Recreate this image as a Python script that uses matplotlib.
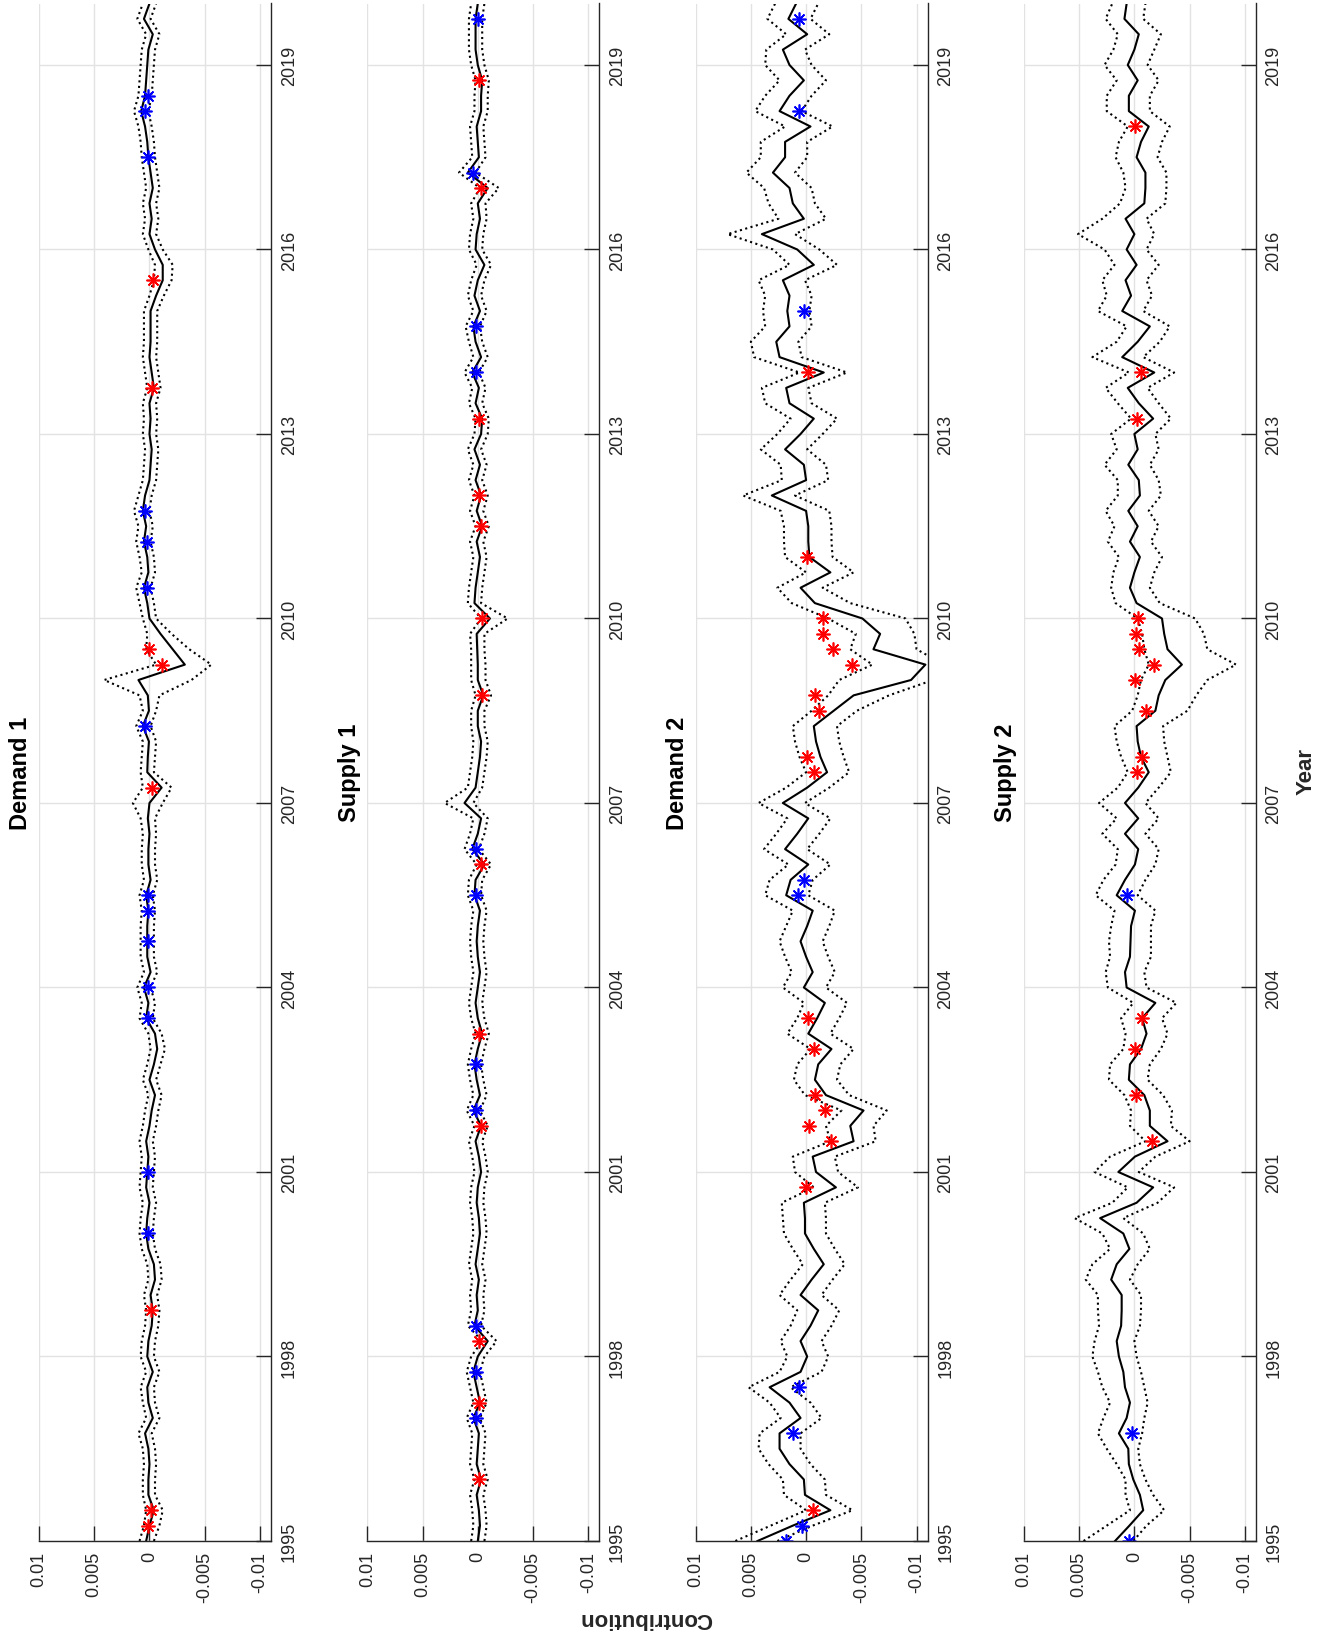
import numpy as np
import matplotlib
matplotlib.use("Agg")
from matplotlib import pyplot as plt

plt.rcParams['font.family'] = ['Liberation Sans', 'DejaVu Sans']

# quarterly dates 1995Q1 .. 2020Q1
years = np.arange(101) / 4 + 1995

# historical decomposition, all values in 1e-3 units
d1_mid = [0.3, 0.0, -0.4, 0.1, 0.1, 0.0, 0.1, 0.4, -0.3, 0.1,
          0.2, -0.3, 0.2, 0.1, -0.2, -0.3, -0.1, -0.5, -0.4, 0.1,
          0.3, 0.2, 0.0, 0.3, 0.2, 0.1, 0.3, 0.0, -0.2, -0.5,
          0.0, -0.4, -0.7, -0.5, 0.3, 0.1, 0.5, -0.1, 0.2, 0.2,
          0.2, 0.1, 0.3, -0.1, 0.1, 0.1, 0.0, 0.15, 0.0, -1.1,
          0.2, 0.15, 0.05, 0.6, 0.05, 0.15, 1.0, -3.2, -2.1, -1.0,
          0.0, 0.2, 0.5, 0.1, 0.2, 0.5, 0.3, 0.6, 0.4, 0.0,
          -0.1, -0.2, 0.0, -0.1, 0.0, -0.4, -0.2, 0.0, -0.1, -0.1,
          -0.1, -0.6, -1.2, -1.2, -0.5, 0.0, -0.2, 0.0, -0.3, -0.1,
          0.1, 0.2, 0.4, 0.75, 0.4, 0.3, 0.2, 0.1, -0.3, 0.5, 0.0]
d1_hi = [0.9, 0.5, 0.3, 0.6, 0.6, 0.5, 0.6, 1.0, 0.3, 0.6,
         0.8, 0.3, 0.8, 0.7, 0.4, 0.3, 0.5, 0.1, 0.2, 0.7,
         0.9, 0.8, 0.6, 0.9, 0.8, 0.7, 0.9, 0.6, 0.4, 0.1,
         0.6, 0.2, -0.1, 0.1, 0.9, 0.7, 1.1, 0.5, 0.8, 0.8,
         0.8, 0.7, 0.9, 0.5, 0.7, 0.7, 0.6, 0.8, 1.5, 0.6,
         0.8, 0.7, 0.6, 1.2, 0.6, 0.9, 4.1, -0.6, 0.3, 0.2,
         0.6, 0.9, 1.2, 0.7, 0.9, 1.2, 1.0, 1.4, 1.0, 0.6,
         0.5, 0.4, 0.6, 0.5, 0.6, 0.2, 0.4, 0.6, 0.5, 0.5,
         0.5, 0.0, -0.4, -0.5, 0.1, 0.6, 0.4, 0.6, 0.3, 0.5,
         0.7, 0.8, 1.0, 1.4, 1.0, 0.9, 0.8, 0.7, 0.3, 1.1, 0.6]
d1_lo = [-0.4, -0.9, -1.2, -0.5, -0.5, -0.6, -0.5, -0.2, -0.9, -0.5,
         -0.4, -0.9, -0.4, -0.5, -0.8, -0.9, -0.7, -1.1, -1.0, -0.5,
         -0.3, -0.4, -0.6, -0.3, -0.4, -0.5, -0.3, -0.6, -0.8, -1.1,
         -0.6, -1.0, -1.4, -1.1, -0.3, -0.5, -0.1, -0.7, -0.4, -0.4,
         -0.4, -0.5, -0.3, -0.7, -0.5, -0.5, -0.6, -0.5, -1.2, -2.0,
         -0.4, -0.5, -0.6, -0.1, -0.6, -0.9, -3.8, -5.6, -3.6, -2.0,
         -0.6, -0.4, -0.1, -0.5, -0.4, -0.1, -0.3, 0.0, -0.2, -0.6,
         -0.7, -0.8, -0.6, -0.7, -0.6, -1.0, -0.8, -0.6, -0.7, -0.7,
         -0.7, -1.3, -2.0, -2.1, -1.2, -0.6, -0.8, -0.6, -0.9, -0.7,
         -0.5, -0.4, -0.2, 0.1, -0.2, -0.3, -0.4, -0.5, -0.9, -0.1, -0.6]
d1_red_t = [1995.25, 1995.5, 1998.75, 2007.25, 2009.25, 2009.5, 2013.75, 2015.5]
d1_red_v = [0.1, -0.1, -0.1, -0.25, -1.1, 0.0, -0.25, -0.3]
d1_blue_t = [2000.0, 2001.0, 2003.5, 2004.0, 2004.75, 2005.25, 2005.5, 2008.25,
             2010.5, 2011.25, 2011.75, 2017.5, 2018.25, 2018.5]
d1_blue_v = [0.15, 0.15, 0.15, 0.15, 0.15, 0.15, 0.15, 0.45, 0.25, 0.2, 0.4, 0.15, 0.4, 0.1]

s1_mid = [0.0, -0.2, -0.1, 0.1, -0.3, 0.1, 0.0, -0.1, 0.4, -0.2,
          0.1, 0.4, 0.0, -0.9, 0.3, 0.0, 0.1, -0.1, 0.2, 0.0,
          -0.2, -0.1, 0.1, 0.0, -0.3, -0.1, 0.2, -0.3, 0.4, -0.2,
          0.1, 0.3, 0.0, -0.4, 0.0, 0.2, 0.0, -0.2, 0.0, 0.1,
          0.0, -0.2, 0.3, 0.2, -0.6, 0.5, 0.0, -0.3, 1.2, 0.2,
          0.0, -0.2, -0.3, 0.0, 0.0, -0.5, 0.0, 0.0, 0.05, 0.1,
          -1.1, 0.3, 0.2, 0.0, -0.2, 0.1, -0.4, 0.1, -0.3, 0.2,
          -0.2, 0.3, -0.3, -0.4, 0.2, -0.1, 0.5, -0.3, 0.2, 0.4,
          -0.2, 0.3, 0.0, -0.6, 0.2, 0.1, -0.2, 0.0, -0.9, 0.9,
          -0.1, 0.0, 0.1, -0.3, -0.3, -0.4, 0.0, 0.2, 0.2, 0.2, 0.0]
s1_hi = [0.6, 0.4, 0.5, 0.7, 0.3, 0.7, 0.6, 0.5, 1.0, 0.4,
         0.7, 1.0, 0.6, -0.4, 0.9, 0.6, 0.7, 0.5, 0.8, 0.6,
         0.4, 0.5, 0.7, 0.6, 0.3, 0.5, 0.8, 0.3, 1.0, 0.4,
         0.7, 0.9, 0.6, 0.2, 0.6, 0.8, 0.6, 0.4, 0.6, 0.7,
         0.6, 0.4, 0.9, 0.8, 0.1, 1.2, 0.7, 0.4, 3.0, 0.9,
         0.7, 0.5, 0.4, 0.6, 0.6, 0.2, 0.6, 0.6, 0.6, 0.7,
         -0.3, 0.9, 0.8, 0.6, 0.4, 0.7, 0.2, 0.7, 0.3, 0.8,
         0.4, 0.9, 0.3, 0.2, 0.8, 0.5, 1.2, 0.4, 0.8, 1.1,
         0.4, 0.9, 0.6, 0.1, 0.8, 0.7, 0.4, 0.6, -0.2, 1.7,
         0.5, 0.6, 0.7, 0.3, 0.3, 0.2, 0.6, 0.8, 0.8, 0.8, 0.6]
s1_lo = [-0.6, -0.8, -0.7, -0.5, -0.9, -0.5, -0.6, -0.7, -0.2, -0.8,
         -0.5, -0.2, -0.6, -1.7, -0.3, -0.6, -0.5, -0.7, -0.4, -0.6,
         -0.8, -0.7, -0.5, -0.6, -0.9, -0.7, -0.4, -0.9, -0.2, -0.8,
         -0.5, -0.3, -0.6, -1.0, -0.6, -0.4, -0.6, -0.8, -0.6, -0.5,
         -0.6, -0.8, -0.3, -0.4, -1.2, -0.1, -0.6, -0.9, 0.4, -0.4,
         -0.6, -0.8, -0.9, -0.6, -0.6, -1.2, -0.7, -0.7, -0.6, -0.6,
         -2.7, -0.3, -0.4, -0.6, -0.8, -0.5, -1.0, -0.5, -0.9, -0.4,
         -0.8, -0.3, -0.9, -1.0, -0.4, -0.7, -0.1, -0.9, -0.4, -0.2,
         -0.8, -0.3, -0.6, -1.2, -0.4, -0.5, -0.8, -0.7, -1.9, 0.2,
         -0.7, -0.6, -0.5, -0.9, -0.9, -1.0, -0.6, -0.4, -0.4, -0.4, -0.6]
s1_red_t = [1996.0, 1997.25, 1998.25, 2001.75, 2003.25, 2006.0, 2008.75, 2010.0,
            2011.5, 2012.0, 2013.25, 2017.0, 2018.75]
s1_red_v = [-0.1, -0.1, -0.1, -0.3, -0.1, -0.3, -0.4, -0.4, -0.3, -0.1, -0.1, -0.3, -0.1]
s1_blue_t = [1997.0, 1997.75, 1998.5, 2002.0, 2002.75, 2005.5, 2006.25, 2014.0,
             2014.75, 2017.25, 2019.75]
s1_blue_v = [0.2, 0.2, 0.2, 0.2, 0.2, 0.2, 0.2, 0.2, 0.2, 0.4, 0.0]

d2_mid = [4.4, 1.2, -2.2, 0.1, 0.2, 1.5, 2.4, 2.4, 0.5, 1.5,
          3.3, 0.5, -0.1, 0.5, -0.4, -1.1, 0.5, -0.5, -1.6, -0.7,
          0.1, 0.1, 0.2, -2.7, -0.9, -0.6, -4.3, -4.0, -5.2, -1.8,
          -0.8, -1.1, -2.3, -0.2, -1.0, -1.7, 0.2, -0.6, 0.0, 0.5,
          -0.1, -0.6, 1.8, 1.4, -0.2, 1.9, 0.8, -0.2, 2.1, -0.1,
          -1.9, -1.3, -0.9, -0.7, -2.5, -4.3, -9.5, -10.8, -6.1, -6.7,
          -5.1, -0.8, 0.5, -2.2, -0.3, -0.2, -0.2, 0.0, 3.1, 0.0,
          0.2, 1.9, 0.5, -0.7, 1.5, 1.8, -1.6, 2.4, 2.7, 1.5,
          1.7, 1.5, 2.1, -0.7, 0.8, 4.0, 0.2, 1.2, 1.5, 3.0,
          1.9, 1.9, -0.4, 2.4, 1.5, 0.2, 1.5, 2.1, -0.1, 1.6, 0.9]
d2_hi = [6.4, 3.2, 0.0, 2.0, 2.1, 3.4, 4.3, 4.2, 2.3, 3.3,
         5.2, 2.4, 1.7, 2.3, 1.4, 0.8, 2.4, 1.4, 0.3, 1.2,
         2.0, 2.1, 2.2, -0.7, 1.0, 1.2, -2.2, -1.8, -3.2, 0.1,
         1.1, 0.8, -0.4, 1.7, 0.8, 0.2, 2.1, 1.3, 1.9, 2.4,
         1.8, 1.2, 3.7, 3.3, 1.6, 3.8, 2.7, 1.7, 4.3, 1.8,
         0.0, 0.6, 1.0, 1.2, -0.5, -2.0, -3.0, -6.0, -4.0, -4.5,
         -2.0, 1.3, 2.6, 0.0, 1.9, 2.0, 2.0, 2.3, 5.7, 2.2,
         2.3, 4.1, 2.6, 1.4, 3.7, 4.0, 0.6, 4.7, 5.0, 3.7,
         3.9, 3.7, 4.3, 1.5, 3.0, 7.1, 2.5, 3.4, 3.8, 5.4,
         4.1, 4.1, 1.9, 4.6, 3.7, 2.4, 3.7, 3.6, 1.8, 3.5, 2.8]
d2_lo = [2.6, -0.6, -4.2, -1.8, -1.7, -0.4, 0.5, 0.5, -1.4, -0.4,
         1.4, -1.4, -2.0, -1.4, -2.3, -3.0, -1.4, -2.4, -3.5, -2.6,
         -1.8, -1.8, -1.7, -4.7, -2.9, -2.6, -6.3, -6.1, -7.3, -3.9,
         -2.8, -3.1, -4.3, -2.2, -3.0, -3.7, -1.8, -2.6, -2.0, -1.5,
         -2.1, -2.6, -0.2, -0.6, -2.2, -0.1, -1.2, -2.2, 0.1, -2.1,
         -3.9, -3.4, -3.0, -2.8, -4.6, -7.5, -11.5, -12.5, -10.0, -9.8,
         -9.0, -4.0, -1.5, -4.3, -2.4, -2.3, -2.3, -2.1, 1.0, -2.0,
         -1.8, -0.1, -1.5, -2.8, -0.5, -0.2, -3.7, 0.4, 0.7, -0.5,
         -0.3, -0.5, 0.1, -2.8, -1.2, 1.0, -1.8, -0.8, -0.5, 1.0,
         -0.1, -0.1, -2.4, 0.4, -0.5, -1.8, -0.5, 0.1, -2.1, -0.4, -1.1]
d2_red_t = [1995.5, 2000.75, 2001.5, 2001.75, 2002.0, 2002.25, 2003.0, 2003.5,
            2007.5, 2007.75, 2008.5, 2008.75, 2009.25, 2009.5, 2009.75, 2010.0,
            2011.0, 2014.0]
d2_red_v = [-0.6, 0.0, -2.3, -0.3, -1.7, -0.8, -0.7, -0.2,
            -0.7, -0.06, -1.2, -0.8, -4.2, -2.4, -1.5, -1.5, -0.06, -0.2]
d2_blue_t = [1995.0, 1995.25, 1996.75, 1997.5, 2005.5, 2005.75, 2015.0, 2018.25, 2019.75]
d2_blue_v = [1.8, 0.4, 1.2, 0.6, 0.7, 0.2, 0.2, 0.6, 0.6]

s2_mid = [1.75, 0.45, -0.8, -0.5, 0.1, 0.5, 0.55, 1.4, 0.7, 0.4,
          0.85, 1.0, 1.4, 1.6, 1.2, 1.15, 1.15, 2.1, 1.6, 0.45,
          1.0, 3.1, -0.2, -1.7, 1.45, -0.05, -3.0, -1.4, -1.4, -0.9,
          0.5, 0.4, -0.6, -1.1, -0.7, -1.9, 0.7, 0.85, 0.4, 0.35,
          0.3, -0.05, 1.6, 0.85, -0.05, -0.35, 0.85, -0.35, 0.85, -0.35,
          -1.3, -0.6, -0.3, -0.2, -1.9, -2.2, -2.8, -4.3, -3.0, -2.7,
          -2.5, -0.2, 0.4, 0.0, -0.5, 0.4, -0.3, 0.55, -0.5, -0.4,
          0.55, -0.3, 0.0, -1.7, -0.4, 0.6, -1.8, 1.1, -0.3, -1.4,
          1.1, 0.3, 0.8, -0.2, 0.7, 0.0, 0.8, -0.9, -1.0, -1.0,
          -0.2, -0.6, -1.3, 0.5, 0.5, -0.3, 0.6, 0.0, -0.4, 0.9, 0.7]
s2_hi = [4.6, 2.5, 0.4, 0.8, 0.8, 1.6, 2.5, 3.3, 2.8, 2.2,
         2.9, 3.3, 3.8, 3.6, 3.2, 3.3, 3.3, 4.4, 3.8, 2.2,
         2.9, 5.4, 2.0, 0.6, 3.6, 2.2, -1.0, 0.4, 0.3, 0.9,
         2.3, 2.2, 1.0, 0.8, 1.2, 0.1, 2.4, 2.6, 2.2, 2.3,
         2.1, 1.8, 3.5, 2.8, 1.7, 1.5, 2.9, 1.6, 3.2, 1.5,
         0.6, 1.2, 1.6, 1.8, 0.2, -0.3, -0.6, -1.3, -0.9, -0.7,
         -0.3, 1.7, 2.1, 1.9, 1.4, 2.4, 1.8, 2.6, 1.5, 1.5,
         2.7, 1.6, 2.1, 0.3, 1.5, 2.6, 0.5, 3.8, 1.6, 0.7,
         3.3, 2.5, 2.9, 1.8, 2.7, 5.1, 2.9, 1.3, 0.8, 1.0,
         1.7, 1.4, 0.6, 2.5, 2.5, 1.6, 2.7, 1.9, 1.5, 2.6, 2.0]
s2_lo = [0.1, -1.1, -2.7, -1.7, -1.0, -0.5, -0.35, -0.7, -0.9, -1.2,
         -0.9, -0.6, -0.2, 0.0, -0.5, -0.6, -0.6, 0.4, -0.3, -1.4,
         -0.8, 1.0, -2.1, -3.6, -0.4, -1.9, -5.0, -3.3, -3.4, -2.6,
         -1.2, -1.4, -2.4, -3.0, -2.5, -3.8, -1.1, -0.9, -1.5, -1.5,
         -1.5, -1.9, -0.3, -1.0, -1.9, -2.2, -1.0, -2.2, -1.0, -2.2,
         -3.3, -3.0, -2.7, -2.6, -4.8, -5.6, -6.6, -9.2, -6.6, -6.3,
         -5.5, -2.3, -1.4, -1.8, -2.5, -1.5, -2.2, -1.3, -2.4, -2.2,
         -1.4, -2.2, -1.9, -3.3, -2.2, -1.2, -3.6, -0.8, -2.3, -3.2,
         -0.8, -1.6, -1.1, -2.2, -1.1, -1.8, -1.1, -2.8, -2.9, -2.9,
         -2.1, -2.5, -3.2, -1.4, -1.4, -2.2, -1.2, -1.8, -2.4, -0.8, -1.0]
s2_red_t = [2001.5, 2002.25, 2003.0, 2003.5, 2007.5, 2007.75, 2008.5, 2009.0,
            2009.25, 2009.5, 2009.75, 2010.0, 2013.25, 2014.0, 2018.0]
s2_red_v = [-1.6, -0.15, -0.06, -0.7, -0.2, -0.7, -1.05, -0.06,
            -1.8, -0.45, -0.15, -0.3, -0.2, -0.6, -0.06]
s2_blue_t = [1995.0, 1996.75, 2005.5]
s2_blue_v = [0.5, 0.25, 0.7]

titles = ['Demand 1', 'Supply 1', 'Demand 2', 'Supply 2']
panels = [
    (d1_mid, d1_hi, d1_lo, d1_red_t, d1_red_v, d1_blue_t, d1_blue_v),
    (s1_mid, s1_hi, s1_lo, s1_red_t, s1_red_v, s1_blue_t, s1_blue_v),
    (d2_mid, d2_hi, d2_lo, d2_red_t, d2_red_v, d2_blue_t, d2_blue_v),
    (s2_mid, s2_hi, s2_lo, s2_red_t, s2_red_v, s2_blue_t, s2_blue_v),
]

W, H = 1321, 1640
fig = plt.figure(figsize=(W / 100, H / 100), dpi=100)

ax_col = '#262626'
star = (8, 2, 0)

for i, (mid, hi, lo, rt, rv, bt, bv) in enumerate(panels):
    x0 = 39 + 328.3 * i
    ax = fig.add_axes([x0 / W, (H - 1542) / H, 232 / W, 1537.5 / H])

    ax.plot(np.array(hi) * 1e-3, years, color='k', ls=':', lw=1.5)
    ax.plot(np.array(lo) * 1e-3, years, color='k', ls=':', lw=1.5)
    ax.plot(np.array(mid) * 1e-3, years, color='k', ls='-', lw=1.5)
    ax.plot(np.array(rv) * 1e-3, rt, ls='none', marker=star, ms=10, mew=1.2, color='r')
    ax.plot(np.array(bv) * 1e-3, bt, ls='none', marker=star, ms=10, mew=1.2, color='b')

    ax.set_xlim(0.01, -0.011)
    ax.set_ylim(1995, 2020)
    ax.set_xticks([0.01, 0.005, 0, -0.005, -0.01])
    ax.set_xticklabels(['0.01', '0.005', '0', '-0.005', '-0.01'], rotation=90)
    ax.set_yticks(range(1995, 2020, 3))
    ax.set_yticklabels([str(y) for y in range(1995, 2020, 3)], rotation=90, va='center')

    ax.tick_params(axis='y', left=False, right=True, labelleft=False, labelright=True)
    ax.tick_params(direction='in', length=11, width=1, color=ax_col,
                   labelsize=13, labelcolor=ax_col, pad=7)
    for s in ('left', 'top'):
        ax.spines[s].set_visible(False)
    for s in ('bottom', 'right'):
        ax.spines[s].set_color(ax_col)
        ax.spines[s].set_linewidth(1)

    ax.grid(True, color='#e2e2e2', lw=1.0)
    ax.set_axisbelow(True)

    fig.text((x0 - 18) / W, (H - 773) / H, titles[i], rotation=90, fontsize=17,
             fontweight='bold', ha='center', va='center')

fig.text(646 / W, (H - 1619) / H, 'Contribution', rotation=180, fontsize=16,
         fontweight='bold', ha='center', va='center', color=ax_col)
fig.text(1306 / W, (H - 772) / H, 'Year', rotation=90, fontsize=16,
         fontweight='bold', ha='center', va='center', color=ax_col)

fig.savefig('out.png', dpi=100)
